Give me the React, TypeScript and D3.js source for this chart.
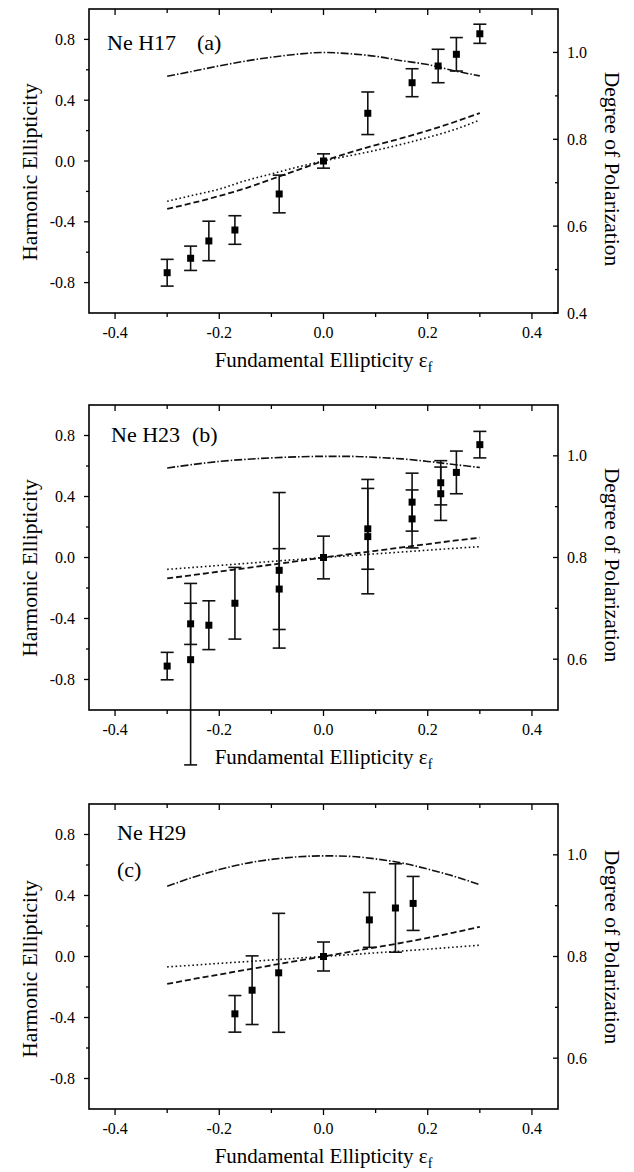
import React from "react";
import * as d3 from "d3";

// ---------- data ----------
const xMajorTicks = [-0.4, -0.2, 0, 0.2, 0.4];
const xMinorTicks = [-0.3, -0.1, 0.1, 0.3];
const leftMajorTicks = [-0.8, -0.4, 0, 0.4, 0.8];
const leftMinorTicks = [-0.6, -0.2, 0.2, 0.6];

const curveX = [-0.3, -0.25, -0.2, -0.15, -0.1, -0.05, 0, 0.05, 0.1, 0.15, 0.2, 0.25, 0.3];

// Panel (a) Ne H17
const h17X = [-0.3, -0.255, -0.22, -0.17, -0.085, 0, 0.085, 0.17, 0.22, 0.255, 0.3];
const h17Y = [-0.735, -0.64, -0.526, -0.454, -0.217, 0, 0.314, 0.515, 0.625, 0.702, 0.837];
const h17ErrUp = [0.088, 0.08, 0.13, 0.094, 0.124, 0.047, 0.14, 0.092, 0.11, 0.11, 0.063];
const h17ErrDown = [0.088, 0.08, 0.13, 0.094, 0.124, 0.047, 0.14, 0.092, 0.11, 0.11, 0.063];
const h17DegPol = [0.945, 0.957, 0.969, 0.98, 0.989, 0.996, 1.0, 0.997, 0.991, 0.981, 0.972, 0.958, 0.946];
const h17Dashed = [-0.315, -0.275, -0.23, -0.18, -0.12, -0.06, 0, 0.055, 0.105, 0.15, 0.2, 0.255, 0.315];
const h17Dotted = [-0.265, -0.225, -0.185, -0.13, -0.085, -0.04, 0, 0.035, 0.07, 0.11, 0.155, 0.205, 0.27];
const h17RightTicks = [0.4, 0.6, 0.8, 1.0];
const h17RightMinor = [0.5, 0.7, 0.9];

// Panel (b) Ne H23
const h23X = [-0.3, -0.255, -0.255, -0.22, -0.17, -0.085, -0.085, 0, 0.085, 0.085, 0.17, 0.17, 0.225, 0.225, 0.255, 0.3];
const h23Y = [-0.712, -0.435, -0.67, -0.444, -0.3, -0.084, -0.207, 0, 0.188, 0.137, 0.363, 0.253, 0.49, 0.418, 0.558, 0.74];
const h23ErrUp = [0.09, 0.135, 0.5, 0.16, 0.235, 0.51, 0.265, 0.14, 0.265, 0.375, 0.19, 0.19, 0.145, 0.175, 0.14, 0.087];
const h23ErrDown = [0.09, 0.135, 0.69, 0.16, 0.235, 0.51, 0.265, 0.14, 0.265, 0.375, 0.19, 0.19, 0.145, 0.175, 0.14, 0.087];
const h23DegPol = [0.976, 0.983, 0.989, 0.993, 0.996, 0.998, 0.999, 0.999, 0.997, 0.994, 0.989, 0.983, 0.977];
const h23Dashed = [-0.137, -0.115, -0.092, -0.07, -0.047, -0.024, 0, 0.022, 0.044, 0.066, 0.088, 0.11, 0.13];
const h23Dotted = [-0.078, -0.065, -0.052, -0.039, -0.026, -0.013, 0, 0.012, 0.024, 0.036, 0.048, 0.06, 0.071];
const h23RightTicks = [0.6, 0.8, 1.0];
const h23RightMinor = [0.7, 0.9];

// Panel (c) Ne H29
const h29X = [-0.17, -0.137, -0.086, 0, 0.088, 0.138, 0.172];
const h29Y = [-0.376, -0.221, -0.107, 0, 0.24, 0.318, 0.348];
const h29ErrUp = [0.12, 0.225, 0.39, 0.095, 0.18, 0.29, 0.177];
const h29ErrDown = [0.12, 0.225, 0.39, 0.095, 0.18, 0.29, 0.177];
const h29DegPol = [0.938, 0.956, 0.971, 0.983, 0.991, 0.996, 0.998, 0.997, 0.992, 0.984, 0.972, 0.958, 0.941];
const h29Dashed = [-0.18, -0.148, -0.118, -0.088, -0.058, -0.029, 0, 0.03, 0.06, 0.09, 0.122, 0.157, 0.195];
const h29Dotted = [-0.068, -0.057, -0.045, -0.034, -0.023, -0.011, 0, 0.012, 0.024, 0.036, 0.048, 0.061, 0.074];
const h29RightTicks = [0.6, 0.8, 1.0];
const h29RightMinor = [0.7, 0.9];

// ---------- layout ----------
const W = 634;
const H = 1172;
const LEFT = 89;
const RIGHT = 558;
const FONT = "Liberation Serif, DejaVu Serif, Times New Roman, serif";

type PanelDef = {
  top: number;
  bottom: number;
  rightDomain: [number, number];
  xs: number[];
  ys: number[];
  errUp: number[];
  errDown: number[];
  degPol: number[];
  dashed: number[];
  dotted: number[];
  rightTicks: number[];
  rightMinor: number[];
  labels: { text: string; x: number; y: number }[];
  leftLabelY: number;
  rightLabelY: number;
};

const panels: PanelDef[] = [
  {
    top: 9, bottom: 313, rightDomain: [0.4, 1.1],
    xs: h17X, ys: h17Y, errUp: h17ErrUp, errDown: h17ErrDown,
    degPol: h17DegPol, dashed: h17Dashed, dotted: h17Dotted,
    rightTicks: h17RightTicks, rightMinor: h17RightMinor,
    labels: [{ text: "Ne H17", x: 107, y: 50 }, { text: "(a)", x: 197, y: 50 }],
    leftLabelY: 172, rightLabelY: 169,
  },
  {
    top: 405, bottom: 710, rightDomain: [0.5, 1.1],
    xs: h23X, ys: h23Y, errUp: h23ErrUp, errDown: h23ErrDown,
    degPol: h23DegPol, dashed: h23Dashed, dotted: h23Dotted,
    rightTicks: h23RightTicks, rightMinor: h23RightMinor,
    labels: [{ text: "Ne H23", x: 111, y: 442 }, { text: "(b)", x: 192, y: 442 }],
    leftLabelY: 568, rightLabelY: 565,
  },
  {
    top: 804, bottom: 1109, rightDomain: [0.5, 1.1],
    xs: h29X, ys: h29Y, errUp: h29ErrUp, errDown: h29ErrDown,
    degPol: h29DegPol, dashed: h29Dashed, dotted: h29Dotted,
    rightTicks: h29RightTicks, rightMinor: h29RightMinor,
    labels: [{ text: "Ne H29", x: 117, y: 840 }, { text: "(c)", x: 117, y: 877 }],
    leftLabelY: 969, rightLabelY: 947,
  },
];

const fmt = d3.format(".1f");
const txt = { fontFamily: FONT };

function Panel({ p }: { p: PanelDef }) {
  const x = d3.scaleLinear().domain([-0.45, 0.45]).range([LEFT, RIGHT]);
  const y = d3.scaleLinear().domain([-1, 1]).range([p.bottom, p.top]);
  const yr = d3.scaleLinear().domain(p.rightDomain).range([p.bottom, p.top]);

  const lineL = d3.line<number>().x((_, i) => x(curveX[i])).y((d) => y(d)).curve(d3.curveMonotoneX);
  const lineR = d3.line<number>().x((_, i) => x(curveX[i])).y((d) => yr(d)).curve(d3.curveMonotoneX);

  const cap = 6.5;
  const sq = 7;

  return (
    <g>
      {/* curves */}
      <path d={lineR(p.degPol) || ""} fill="none" stroke="#111" strokeWidth={1.6} strokeDasharray="8,2,1.5,2" />
      <path d={lineL(p.dashed) || ""} fill="none" stroke="#111" strokeWidth={1.8} strokeDasharray="6,3" />
      <path d={lineL(p.dotted) || ""} fill="none" stroke="#111" strokeWidth={1.6} strokeDasharray="1.6,2.6" />

      {/* error bars */}
      {p.xs.map((xv, i) => {
        const cx = x(xv);
        const y1 = y(p.ys[i] + p.errUp[i]);
        const y2 = y(p.ys[i] - p.errDown[i]);
        return (
          <g key={"e" + i} stroke="#111" strokeWidth={1.6}>
            <line x1={cx} x2={cx} y1={y1} y2={y2} />
            <line x1={cx - cap} x2={cx + cap} y1={y1} y2={y1} />
            <line x1={cx - cap} x2={cx + cap} y1={y2} y2={y2} />
          </g>
        );
      })}
      {p.xs.map((xv, i) => (
        <rect key={"m" + i} x={x(xv) - sq / 2} y={y(p.ys[i]) - sq / 2} width={sq} height={sq} fill="#000" />
      ))}

      {/* frame */}
      <rect x={LEFT} y={p.top} width={RIGHT - LEFT} height={p.bottom - p.top} fill="none" stroke="#000" strokeWidth={1.6} />

      {/* x ticks bottom (outward) and top (inward) */}
      {xMajorTicks.map((t) => (
        <g key={"xt" + t} stroke="#000" strokeWidth={1.3}>
          <line x1={x(t)} x2={x(t)} y1={p.bottom} y2={p.bottom + 6} />
          <line x1={x(t)} x2={x(t)} y1={p.top} y2={p.top + 6} />
        </g>
      ))}
      {xMinorTicks.map((t) => (
        <g key={"xm" + t} stroke="#000" strokeWidth={1.3}>
          <line x1={x(t)} x2={x(t)} y1={p.bottom} y2={p.bottom + 4} />
          <line x1={x(t)} x2={x(t)} y1={p.top} y2={p.top + 4} />
        </g>
      ))}
      {xMajorTicks.map((t) => (
        <text key={"xl" + t} x={x(t)} y={p.bottom + 25} textAnchor="middle" fontSize={16} style={txt}>
          {t === 0 ? "0.0" : (t < 0 ? "-" : "") + fmt(Math.abs(t))}
        </text>
      ))}

      {/* left ticks (outward) */}
      {leftMajorTicks.map((t) => (
        <g key={"lt" + t}>
          <line x1={LEFT - 5} x2={LEFT} y1={y(t)} y2={y(t)} stroke="#000" strokeWidth={1.3} />
          <text x={LEFT - 14} y={y(t) + 5.5} textAnchor="end" fontSize={16} style={txt}>
            {t === 0 ? "0.0" : (t < 0 ? "-" : "") + fmt(Math.abs(t))}
          </text>
        </g>
      ))}
      {leftMinorTicks.map((t) => (
        <line key={"lm" + t} x1={LEFT - 3} x2={LEFT} y1={y(t)} y2={y(t)} stroke="#000" strokeWidth={1.3} />
      ))}

      {/* right ticks (inward) */}
      {p.rightTicks.map((t) => (
        <g key={"rt" + t}>
          <line x1={RIGHT - 5} x2={RIGHT} y1={yr(t)} y2={yr(t)} stroke="#000" strokeWidth={1.3} />
          <text x={RIGHT + 9} y={yr(t) + 5.5} textAnchor="start" fontSize={16} style={txt}>
            {fmt(t)}
          </text>
        </g>
      ))}
      {p.rightMinor.map((t) => (
        <line key={"rm" + t} x1={RIGHT - 3} x2={RIGHT} y1={yr(t)} y2={yr(t)} stroke="#000" strokeWidth={1.3} />
      ))}

      {/* panel labels */}
      {p.labels.map((l) => (
        <text key={l.text} x={l.x} y={l.y} fontSize={22} style={txt}>
          {l.text}
        </text>
      ))}

      {/* axis titles */}
      <text
        transform={`translate(37,${p.leftLabelY}) rotate(-90)`}
        textAnchor="middle" fontSize={21.5} style={txt}
      >
        Harmonic Ellipticity
      </text>
      <text
        transform={`translate(605,${p.rightLabelY}) rotate(90)`}
        textAnchor="middle" fontSize={21.5} style={txt}
      >
        Degree of Polarization
      </text>
      <text x={(LEFT + RIGHT) / 2} y={p.bottom + 54} textAnchor="middle" fontSize={21} style={txt}>
        Fundamental Ellipticity ε
        <tspan fontSize={14} dy={5}>f</tspan>
      </text>
    </g>
  );
}

export default function App() {
  return (
    <div style={{ position: "absolute", left: 0, top: 0, width: W, height: H, background: "#fff" }}>
      <svg width={W} height={H} viewBox={`0 0 ${W} ${H}`} style={{ display: "block" }}>
        <rect width={W} height={H} fill="#fff" />
        {panels.map((p, i) => (
          <Panel key={i} p={p} />
        ))}
      </svg>
    </div>
  );
}
